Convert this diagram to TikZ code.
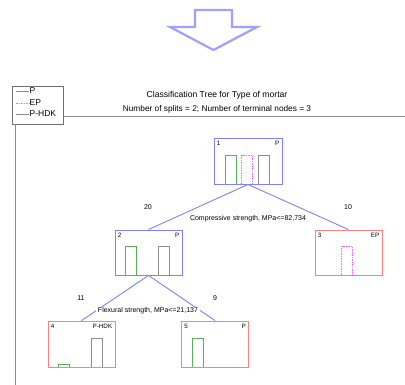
\documentclass[tikz,border=0pt]{standalone}
\usepackage{fontspec}
\setmainfont{Liberation Sans}
\usetikzlibrary{calc}
\definecolor{tblue}{HTML}{8080FF}
\definecolor{tred}{HTML}{FF8080}
\definecolor{tgreen}{HTML}{5CB05C}
\definecolor{tpink}{HTML}{FF66FF}
\definecolor{tgray}{HTML}{8C8C8C}
\definecolor{arrowblue}{HTML}{9FA0FF}
\tikzset{
  tbox/.style={draw, line width=0.9pt, minimum width=67pt, minimum height=46pt, inner sep=0pt},
  bluebox/.style={tbox, draw=tblue},
  redbox/.style={tbox, draw=tred},
  edge/.style={draw=tblue, line width=0.9pt},
  lbl/.style={font=\fontsize{6.3}{7}\selectfont, inner sep=1pt},
  cnt/.style={font=\fontsize{7}{8}\selectfont, inner sep=1pt},
  gbar/.style={draw=tgreen, line width=0.8pt},
  pbar/.style={draw=tpink, line width=0.8pt, dash pattern=on 1.5pt off 1pt},
  kbar/.style={draw=tgray, line width=0.8pt},
  legtxt/.style={anchor=west, inner sep=0pt, font=\fontsize{8.5}{9}\selectfont},
}
\begin{document}
\begin{tikzpicture}[x=1pt,y=-1pt]
\useasboundingbox (0,0) rectangle (405,385);
% big hollow arrow
\draw[arrowblue, line width=2.2pt, line join=miter] (195,10) -- (232,10) -- (232,27) -- (257,27) -- (213.5,50) -- (170,27) -- (195,27) -- cycle;
% legend
\node[draw=tgray!80!black, line width=0.6pt, minimum width=51pt, minimum height=38pt, inner sep=0pt, anchor=north west] (leg) at (12,86) {};
\draw[tgreen, line width=0.7pt] (16,91) -- (29,91);
\node[legtxt] (lp) at (29.5,91) {P};
\draw[tpink, line width=0.7pt, dash pattern=on 1.5pt off 1pt] (16,103) -- (29,103);
\node[legtxt] (lep) at (29.5,103) {EP};
\draw[tgray, line width=0.7pt] (16,114) -- (29,114);
\node[legtxt] (lph) at (29.5,114) {P-HDK};
% axes
\coordinate (hr) at (405,116);
\draw[tgray, line width=0.6pt] (leg.east |- hr) -- (hr);
\coordinate (vb) at (15,385);
\draw[tgray, line width=0.9pt] (15,124) -- (vb);
% title
\node[font=\fontsize{8.6}{9.5}\selectfont, inner sep=0pt] (t1) at (217,95) {Classification Tree for Type of mortar};
\node[font=\fontsize{8.3}{9.5}\selectfont, inner sep=0pt] (t2) at (217,109) {Number of splits = 2; Number of terminal nodes = 3};
% nodes
\node[bluebox, minimum width=68pt] (n1) at (248,161) {};
\node[bluebox, minimum height=45pt] (n2) at (148.5,252.5) {};
\node[redbox, minimum height=45pt] (n3) at (348.5,252.5) {};
\node[redbox] (n4) at (81.5,344) {};
\node[redbox] (n5) at (215,344) {};
% node labels
\node[lbl, anchor=north west] at ($(n1.north west)+(2,2)$) {1};
\node[lbl, anchor=north east] at ($(n1.north east)+(-2,2)$) {P};
\node[lbl, anchor=north west] at ($(n2.north west)+(2,2)$) {2};
\node[lbl, anchor=north east] at ($(n2.north east)+(-2,2)$) {P};
\node[lbl, anchor=north west] at ($(n3.north west)+(2,2)$) {3};
\node[lbl, anchor=north east] at ($(n3.north east)+(-2,2)$) {EP};
\node[lbl, anchor=north west] at ($(n4.north west)+(2,2)$) {4};
\node[lbl, anchor=north east] at ($(n4.north east)+(-2,2)$) {P-HDK};
\node[lbl, anchor=north west] at ($(n5.north west)+(2,2)$) {5};
\node[lbl, anchor=north east] at ($(n5.north east)+(-2,2)$) {P};
% bars node 1
\draw[gbar] ($(n1.south west)+(12,-0.5)$) -- ++(0,-28.5) -- ++(11,0) -- ++(0,28.5);
\draw[pbar] ($(n1.south west)+(28,-0.5)$) -- ++(0,-28.5) -- ++(11,0) -- ++(0,28.5);
\draw[kbar] ($(n1.south west)+(45,-0.5)$) -- ++(0,-28.5) -- ++(11,0) -- ++(0,28.5);
% bars node 2
\draw[gbar] ($(n2.south west)+(11,-0.5)$) -- ++(0,-28.5) -- ++(11,0) -- ++(0,28.5);
\draw[kbar] ($(n2.south west)+(44,-0.5)$) -- ++(0,-28.5) -- ++(11,0) -- ++(0,28.5);
% bars node 3
\draw[pbar] ($(n3.south west)+(27,-0.5)$) -- ++(0,-28.5) -- ++(11,0) -- ++(0,28.5);
% bars node 4
\draw[gbar] ($(n4.south west)+(11,-0.5)$) -- ++(0,-3) -- ++(11,0) -- ++(0,3);
\draw[kbar] ($(n4.south west)+(44,-0.5)$) -- ++(0,-28.5) -- ++(11,0) -- ++(0,28.5);
% bars node 5
\draw[gbar] ($(n5.south west)+(11,-0.5)$) -- ++(0,-28.5) -- ++(11,0) -- ++(0,28.5);
% edges
\draw[edge] (n1.south) -- (n2.north);
\draw[edge] (n1.south) -- (n3.north);
\draw[edge] (n2.south) -- (n4.north);
\draw[edge] (n2.south) -- (n5.north);
% edge labels
\node[cnt] (c20) at (148,207) {20};
\node[cnt] (c10) at (348,207) {10};
\node[cnt] (s1) at (248,219) {Compressive strength, MPa<=82,734};
\node[cnt] (c11) at (81,298) {11};
\node[cnt] (c9) at (215,298) {9};
\node[cnt, fill=white, inner xsep=1.5pt] (s2) at (148,311) {Flexural strength, MPa<=21,137};
\end{tikzpicture}
\end{document}
